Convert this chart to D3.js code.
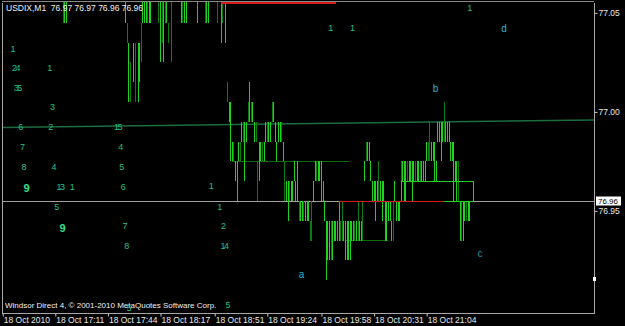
<!DOCTYPE html>
<html>
<head>
<meta charset="utf-8">
<script src="https://cdn.jsdelivr.net/npm/d3@7"></script>
<style>
body { margin: 0; background: #000; overflow: hidden; }
svg text { font-family: "Liberation Sans", Arial, sans-serif; font-size: 8px; }
</style>
</head>
<body>
<svg id="chart" width="625" height="326"></svg>
<script>
let svg = d3.select("#chart")

let symbolTitle = "USDIX,M1  76.97 76.97 76.96 76.96"
let copyright = "Windsor Direct 4, \u00a9 2001-2010 MetaQuotes Software Corp."

// time axis labels (18 Oct 2010)
let timeTicks = ["16:38", "17:11", "17:44", "18:17", "18:51", "19:24", "19:58", "20:31", "21:04"]
let priceTicks = [76.95, 77.00, 77.05]
let bidPrice = 76.96

// M1 bars: minutes after 16:38, low, high, up(1)/down(0)
let bars = [
 [38,77.05,77.07,0],[39,77.05,77.07,1],[40,77.05,77.07,1],
 [77,77.05,77.07,1],[78,77.04,77.05,0],[79,77.01,77.04,1],[80,77.01,77.03,0],[82,77.02,77.04,1],[83,77.01,77.04,0],[85,77.01,77.04,1],[86,77.02,77.04,1],[87,77.03,77.05,0],[88,77.05,77.07,1],
 [89,77.05,77.07,1],[90,77.05,77.07,1],[91,77.05,77.07,0],[92,77.05,77.07,1],[93,77.05,77.07,1],
 [98,77.05,77.07,0],[99,77.03,77.07,1],[100,77.04,77.07,0],[101,77.03,77.07,1],[102,77.05,77.07,0],[103,77.05,77.07,1],[104,77.04,77.05,0],[106,77.03,77.07,0],
 [112,77.05,77.07,1],[113,77.05,77.07,0],[114,77.05,77.07,1],[115,77.05,77.07,1],
 [122,77.05,77.07,1],
 [127,77.05,77.07,0],[128,77.05,77.07,1],[129,77.05,77.07,1],
 [135,77.05,77.07,0],[137,77.04,77.07,1],[138,77.05,77.07,0],[140,77.04,77.07,1],
 [141,77.01,77.02,0],[142,77.00,77.01,1],[143,76.98,77.01,1],[144,76.98,76.99,1],[145,76.98,76.99,0],[146,76.97,76.98,1],[147,76.96,76.98,1],[148,76.98,76.99,1],[149,76.98,76.99,0],
 [150,76.99,77.00,1],[151,76.99,77.00,0],[152,76.97,77.00,1],[153,76.99,77.00,1],[154,77.00,77.01,0],[155,77.00,77.02,1],[156,77.00,77.01,0],[157,77.00,77.01,1],[158,76.99,77.00,1],[159,76.99,77.00,0],
 [160,76.96,76.98,0],[161,76.97,76.99,1],[162,76.98,76.99,1],[163,76.98,76.99,0],[164,76.98,76.99,1],[165,76.99,77.00,1],[166,76.99,77.00,0],[167,76.99,77.00,1],[168,76.99,77.00,1],[169,77.00,77.01,0],
 [170,77.00,77.01,1],[171,76.99,77.00,1],[172,76.98,76.99,1],[173,76.99,77.00,1],[174,76.99,77.00,1],[175,76.99,77.00,0],[176,76.98,76.99,1],[177,76.96,76.98,0],[178,76.96,76.97,1],[179,76.95,76.97,1],
 [180,76.96,76.97,0],[181,76.96,76.97,1],[182,76.96,76.97,1],[183,76.97,76.98,1],[184,76.96,76.97,1],[185,76.96,76.98,1],[186,76.95,76.96,0],[187,76.95,76.96,1],[188,76.95,76.96,1],[189,76.95,76.96,0],
 [190,76.95,76.96,1],[191,76.95,76.96,1],[192,76.95,76.96,1],[193,76.94,76.95,0],[194,76.94,76.96,0],[195,76.96,76.97,1],[196,76.97,76.98,1],[197,76.97,76.98,0],[198,76.97,76.98,1],[199,76.97,76.98,1],
 [200,76.96,76.98,1],[201,76.96,76.97,1],[202,76.95,76.96,1],[203,76.92,76.95,1],[204,76.93,76.95,1],[205,76.93,76.95,1],[206,76.93,76.95,0],[207,76.93,76.95,1],[208,76.94,76.95,1],[209,76.94,76.95,1],
 [210,76.94,76.95,1],[211,76.94,76.96,1],[212,76.94,76.95,0],[213,76.94,76.96,0],[214,76.94,76.95,1],[215,76.93,76.95,1],[216,76.93,76.95,1],[217,76.93,76.95,1],[218,76.93,76.95,1],[219,76.94,76.95,1],
 [220,76.94,76.95,1],[221,76.94,76.95,0],[222,76.94,76.95,1],[223,76.94,76.96,0],[224,76.94,76.95,1],[225,76.94,76.95,1],[226,76.94,76.96,0],[227,76.97,76.98,1],[228,76.98,76.99,0],[229,76.98,76.99,1],
 [230,76.98,76.99,1],[231,76.97,76.98,1],[232,76.96,76.97,1],[233,76.96,76.97,1],[234,76.95,76.97,1],[235,76.96,76.97,1],[236,76.96,76.98,0],[237,76.96,76.97,1],[238,76.95,76.97,1],[239,76.96,76.97,1],
 [240,76.94,76.96,1],[241,76.94,76.96,1],[242,76.95,76.96,1],[243,76.95,76.96,1],[244,76.94,76.95,1],[245,76.94,76.96,0],[246,76.96,76.97,1],[247,76.95,76.96,1],[248,76.95,76.96,1],[249,76.95,76.96,1],
 [250,76.97,76.98,0],[251,76.97,76.98,1],[252,76.96,76.98,1],[253,76.96,76.98,1],[254,76.97,76.98,0],[255,76.97,76.98,1],[256,76.97,76.98,1],[257,76.96,76.98,1],[258,76.97,76.98,1],[259,76.97,76.98,0],
 [260,76.97,76.98,1],[261,76.97,76.98,1],[262,76.97,76.98,0],[263,76.97,76.98,1],[264,76.97,76.98,1],[265,76.97,76.98,1],[266,76.98,76.99,1],[267,76.98,76.99,0],[268,76.98,77.00,0],[269,76.98,76.99,1],
 [270,76.98,76.99,1],[271,76.97,76.99,1],[272,76.97,76.98,1],[273,76.99,77.00,1],[274,76.99,77.00,1],[275,76.98,77.00,1],[276,76.99,77.00,1],[277,76.99,77.01,0],[278,76.99,77.00,1],[279,76.99,77.00,1],
 [280,76.99,77.00,1],[281,76.98,76.99,1],[282,76.98,76.99,1],[283,76.96,76.99,1],[284,76.97,76.98,1],[285,76.96,76.98,1],[286,76.96,76.98,0],[287,76.94,76.96,1],[288,76.94,76.96,0],[289,76.94,76.96,1],
 [290,76.95,76.96,1],[291,76.95,76.96,0],[292,76.95,76.96,1],[293,76.95,76.96,1]
]

// trend line: [minute, price] ends
let trendLine = [[0, 76.9971], [371.4, 77.0009]]
// horizontal segments: [from minute, to minute, price]
let levelSegments = [[144, 217, 76.98], [215, 242, 76.94]]
let redSegments = [[137, 209, 77.06], [211, 277, 76.96]]
let rangeBox = [250, 295, 76.96, 76.97]

// wave labels: text, minute, price
let waveNumbers = [
 ["1", 6.5, 77.037], ["24", 8, 77.0273], ["1", 29.5, 77.0273], ["35", 9.2, 77.0174], ["3", 31.2, 77.0076],
 ["6", 11.3, 76.9975], ["2", 30.1, 76.9975], ["15", 72, 76.9975],
 ["7", 12.4, 76.9874], ["4", 74, 76.9874],
 ["8", 13.4, 76.9773], ["4", 32.2, 76.9773], ["5", 74.7, 76.9773],
 ["13", 35.9, 76.9672], ["1", 43.7, 76.9672], ["6", 75.7, 76.9672], ["1", 130.9, 76.9676],
 ["5", 33.9, 76.9571], ["1", 136.1, 76.9571],
 ["7", 76.7, 76.9475], ["2", 138.5, 76.9474],
 ["8", 77.8, 76.9374], ["14", 138.8, 76.9373],
 ["5", 79.2, 76.9063], ["5", 141.3, 76.9075],
 ["1", 205.8, 77.0475], ["1", 219.4, 77.0475], ["1", 293, 77.0578]
]
let waveNines = [["9", 14.9, 76.9664], ["9", 37.5, 76.9462]]
let waveLetters = [["a", 187.4, 76.9231], ["b", 271.6, 77.0169], ["d", 314.5, 77.0472]]
let waveLetterC = [["c", 299.4, 76.9336]]

let t0 = new Date(2010, 9, 18, 16, 38)
function at(m) { return new Date(t0.getTime() + m * 60000) }
function parseTick(s) {
    let p = s.split(":")
    return new Date(2010, 9, 18, +p[0], +p[1])
}

let xScale = d3.scaleTime()
    .domain([parseTick(timeTicks[0]), parseTick(timeTicks[timeTicks.length - 1])])
    .range([2.7, 426.7])

let yScale = d3.scaleLinear().domain([76.96, 77.06]).range([201, 3])
// price scale labels sit half a point above the bar grid
let yLabelScale = d3.scaleLinear().domain([76.955, 77.055]).range([201, 3])

function px(v) { return Math.round(v) + 0.5 }

function showChart() {

    svg.append("defs").append("clipPath").attr("id", "plot")
        .append("rect").attr("x", 2).attr("y", 2).attr("width", 592).attr("height", 311)

    let plot = svg.append("g").attr("clip-path", "url(#plot)")

    // trend line
    plot.append("line")
        .attr("x1", xScale(at(trendLine[0][0]))).attr("y1", yScale(trendLine[0][1]))
        .attr("x2", xScale(at(trendLine[1][0]))).attr("y2", yScale(trendLine[1][1]))
        .style("stroke", "#1c6c3e").style("stroke-width", 1.5)

    // bid line
    plot.append("line")
        .attr("x1", 2).attr("x2", 594)
        .attr("y1", px(yScale(bidPrice) - 0.5)).attr("y2", px(yScale(bidPrice) - 0.5))
        .style("stroke", "#a0a0a0").style("shape-rendering", "crispEdges")

    plot.selectAll(".level")
        .data(levelSegments)
        .enter()
        .append("line")
        .attr("x1", d => xScale(at(d[0]))).attr("x2", d => xScale(at(d[1])))
        .attr("y1", d => px(yScale(d[2]) - 0.5)).attr("y2", d => px(yScale(d[2]) - 0.5))
        .style("stroke", "#0b6a12").style("shape-rendering", "crispEdges")

    plot.selectAll(".bar")
        .data(bars)
        .enter()
        .append("line")
        .attr("x1", d => px(xScale(at(d[0])) - 0.5))
        .attr("x2", d => px(xScale(at(d[0])) - 0.5))
        .attr("y1", d => Math.round(yScale(d[2])))
        .attr("y2", d => Math.round(yScale(d[1])))
        .style("stroke", d => d[3] ? "#1fd21f" : "#0b7d0b")
        .style("stroke-width", 1)
        .style("shape-rendering", "crispEdges")

    // range box
    plot.append("rect")
        .attr("x", px(xScale(at(rangeBox[0])) - 0.5))
        .attr("y", px(yScale(rangeBox[3]) - 0.5))
        .attr("width", Math.round(xScale(at(rangeBox[1])) - xScale(at(rangeBox[0]))))
        .attr("height", Math.round(yScale(rangeBox[2]) - yScale(rangeBox[3])))
        .style("fill", "none").style("stroke", "#1fd21f").style("shape-rendering", "crispEdges")

    plot.selectAll(".red")
        .data(redSegments)
        .enter()
        .append("line")
        .attr("x1", d => xScale(at(d[0]))).attr("x2", d => xScale(at(d[1])))
        .attr("y1", d => px(yScale(d[2]) - 0.5)).attr("y2", d => px(yScale(d[2]) - 0.5))
        .style("stroke", "#d21a1a").style("shape-rendering", "crispEdges")

    // frame
    svg.append("path")
        .attr("d", "M2.5,313.5 L2.5,2.5 M594.5,2.5 L594.5,313.5 L2.5,313.5")
        .style("fill", "none").style("stroke", "#a8a8a8").style("shape-rendering", "crispEdges")
    svg.append("line").attr("x1", 2).attr("x2", 594).attr("y1", 1.5).attr("y2", 1.5)
        .style("stroke", "#8a8a8a").style("shape-rendering", "crispEdges")
    plot.selectAll(".redTop")
        .data(redSegments.filter(d => d[2] > 77.05))
        .enter()
        .append("line")
        .attr("x1", d => xScale(at(d[0]))).attr("x2", d => xScale(at(d[1])))
        .attr("y1", 2.5).attr("y2", 2.5)
        .style("stroke", "#d21a1a").style("shape-rendering", "crispEdges")
    svg.append("rect").attr("x", 593).attr("y", 277).attr("width", 3).attr("height", 4).style("fill", "#fff")

    // price axis
    let yAxis = d3.axisRight(yLabelScale)
        .tickValues(priceTicks)
        .tickSize(3)
        .tickPadding(1)
        .tickFormat(d3.format(".2f"))
    let yAxisGroup = svg.append("g")
        .attr("transform", "translate(594.5,0)")
        .call(yAxis)
    yAxisGroup.select(".domain").remove()
    yAxisGroup.selectAll("line").style("stroke", "#c8c8c8")
    yAxisGroup.selectAll("text").style("fill", "#e8e8e8").style("font-size", "8.5px")
        .style("font-family", "Liberation Sans, Arial, sans-serif")

    // bid label
    let bidY = yScale(bidPrice)
    svg.append("rect").attr("x", 596).attr("y", bidY - 4.5).attr("width", 25).attr("height", 9)
        .style("fill", "#fff")
    svg.append("text").attr("x", 598).attr("y", bidY + 3)
        .style("fill", "#000").style("font-size", "8px").text(d3.format(".2f")(bidPrice))

    // time axis
    let xAxis = d3.axisBottom(xScale)
        .tickValues(timeTicks.map(parseTick))
        .tickSize(3)
        .tickFormat((d, i) => i == 0 ? "18 Oct 2010" : "18 Oct " + d3.timeFormat("%H:%M")(d))
    let xAxisGroup = svg.append("g")
        .attr("transform", "translate(0,313.5)")
        .call(xAxis)
    xAxisGroup.select(".domain").remove()
    xAxisGroup.selectAll("line").style("stroke", "#c8c8c8")
    xAxisGroup.selectAll("text")
        .attr("text-anchor", "start").attr("x", 0.5).attr("y", 3.5).attr("dy", "0.71em")
        .style("fill", "#e8e8e8").style("font-size", "8.5px")
        .style("font-family", "Liberation Sans, Arial, sans-serif")

    // titles
    svg.append("text").attr("x", 6).attr("y", 11)
        .style("fill", "#f0f0f0").style("font-size", "8.5px").style("white-space", "pre").text(symbolTitle)
    svg.append("text").attr("x", 5).attr("y", 308)
        .style("fill", "#f0f0f0").text(copyright)

    // wave labels
    svg.selectAll(".num")
        .data(waveNumbers)
        .enter()
        .append("text")
        .attr("x", d => xScale(at(d[1])))
        .attr("y", d => yScale(d[2]) + 3.5)
        .attr("text-anchor", "middle")
        .style("font-size", "9px")
        .style("letter-spacing", d => d[0].length > 1 ? "-1.5px" : "0px")
        .style("fill", "#22c083")
        .text(d => d[0])

    svg.selectAll(".nine")
        .data(waveNines)
        .enter()
        .append("text")
        .attr("x", d => xScale(at(d[1])))
        .attr("y", d => yScale(d[2]) + 4)
        .attr("text-anchor", "middle")
        .style("font-size", "11px").style("font-weight", "bold")
        .style("fill", "#34e08f")
        .text(d => d[0])

    svg.selectAll(".letter")
        .data(waveLetters)
        .enter()
        .append("text")
        .attr("x", d => xScale(at(d[1])))
        .attr("y", d => yScale(d[2]) + 3.5)
        .attr("text-anchor", "middle")
        .style("font-size", "10px")
        .style("fill", "#22b8d0")
        .text(d => d[0])

    svg.selectAll(".letterC")
        .data(waveLetterC)
        .enter()
        .append("text")
        .attr("x", d => xScale(at(d[1])))
        .attr("y", d => yScale(d[2]) + 3.5)
        .attr("text-anchor", "middle")
        .style("font-size", "10px")
        .style("fill", "#0e96a2")
        .text(d => d[0])
}

showChart()
</script>
</body>
</html>
